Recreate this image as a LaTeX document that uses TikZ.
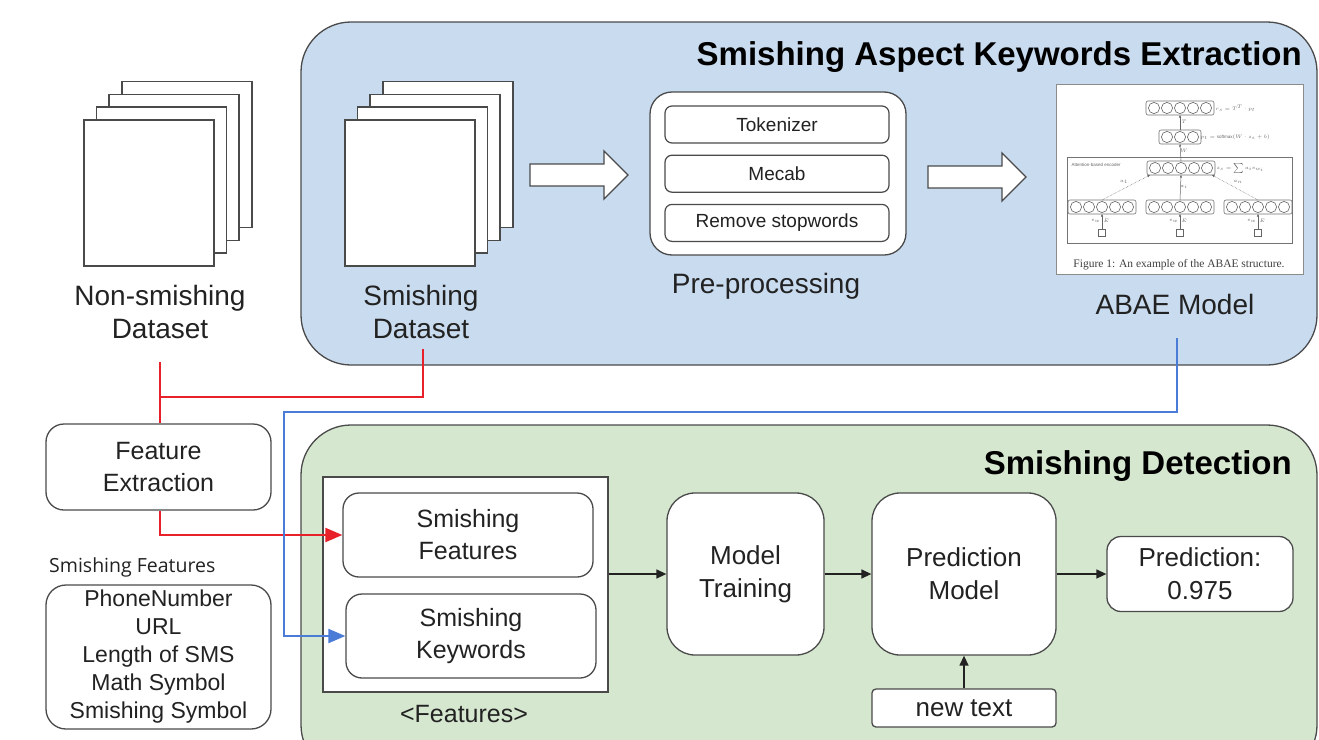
\documentclass[tikz,border=0pt]{standalone}
\usepackage{fontspec}
\setmainfont{Liberation Sans}
\newfontfamily\notefont{Open Sans}
\newfontfamily\figfont{Liberation Serif}
\usetikzlibrary{arrows.meta,positioning}

\definecolor{panelblue}{HTML}{C9DBEF}
\definecolor{panelgreen}{HTML}{D6E7D0}
\definecolor{edgegray}{HTML}{4A4A4A}
\definecolor{linkred}{HTML}{E8202A}
\definecolor{linkblue}{HTML}{4A7BD6}
\definecolor{inkgray}{HTML}{222222}

\tikzset{
  panel/.style={draw=edgegray, line width=1.3pt, rounded corners=50pt},
  title/.style={font=\bfseries\fontsize{33}{38}\selectfont, text=black, inner sep=0pt},
  biglabel/.style={font=\fontsize{28}{33}\selectfont, align=center, text=inkgray, inner sep=0pt},
  page/.style={draw=edgegray, line width=1.5pt, fill=white, minimum width=130pt, minimum height=146pt, inner sep=0pt},
  blockarrow/.style={draw=edgegray, line width=1.3pt, fill=white},
  outerbox/.style={draw=edgegray, line width=1.3pt, fill=white, rounded corners=22pt, inner sep=0pt},
  stepbox/.style={draw=edgegray, line width=1.2pt, fill=white, rounded corners=7pt, minimum width=224pt, minimum height=37pt, inner sep=0pt, font=\fontsize{19}{22}\selectfont, text=inkgray},
  roundbox/.style={draw=edgegray, line width=1.3pt, fill=white, align=center, inner sep=0pt, text=inkgray, font=\fontsize{25}{32}\selectfont},
  flowbox/.style={roundbox, font=\fontsize{26}{33}\selectfont},
  redline/.style={draw=linkred, line width=2.2pt},
  blueline/.style={draw=linkblue, line width=2pt},
  flow/.style={draw=inkgray, line width=1.4pt, -{Triangle[length=10pt,width=9pt]}},
  cellrow/.style={draw=black!55, line width=0.6pt, rounded corners=2pt},
  cell/.style={draw=black!60, line width=0.6pt},
  thinlink/.style={draw=black!60, line width=0.5pt, -{Triangle[length=2.5pt,width=2pt]}},
  tiny/.style={font=\fontsize{4.5}{5}\selectfont, text=black!60, inner sep=0.5pt}
}

\begin{document}
\begin{tikzpicture}[x=1pt,y=-1pt]
\useasboundingbox (0,0) rectangle (1319,739);

% two stages
\draw[panel, fill=panelblue] (301,22) rectangle (1317,365);
\draw[panel, fill=panelgreen] (301,425) rectangle (1317,775);
\node[title, anchor=base east] (kwtitle) at (1302,65) {Smishing Aspect Keywords Extraction};
\node[title, anchor=base east] (dettitle) at (1292,474) {Smishing Detection};

% datasets
\foreach \k in {3,2,1,0}
  \node[page, anchor=north west] at ({83+12.7*\k},{119-12.7*\k}) {};
\node[biglabel, anchor=base] (nonsmish) at (160,338) {Non-smishing\\Dataset};
\foreach \k in {3,2,1,0}
  \node[page, anchor=north west] at ({344+12.7*\k},{119-12.7*\k}) {};
\node[biglabel, anchor=base] (smish) at (421,338) {Smishing\\Dataset};

% pre-processing
\draw[blockarrow] (530,164) -- (604,164) -- (604,151) -- (628,175) -- (604,199) -- (604,186) -- (530,186) -- cycle;
\node[outerbox, minimum width=256pt, minimum height=163pt] (prep) at (778,173.5) {};
\node[stepbox] (tok) at (777,124.5) {Tokenizer};
\node[stepbox, below=11pt of tok] (mecab) {Mecab};
\node[stepbox, below=11pt of mecab] (stopw) {Remove stopwords};
\node[biglabel, anchor=base] (preplbl) at (766,293) {Pre-processing};
\draw[blockarrow] (928,166) -- (1002,166) -- (1002,153) -- (1026,177) -- (1002,201) -- (1002,188) -- (928,188) -- cycle;

% ABAE model figure
\node[draw=black!45, line width=0.8pt, fill=white, minimum width=247pt, minimum height=190pt, inner sep=0pt] (abae) at (1179.5,179) {};
\draw[black!55, line width=0.6pt] (1067,157) rectangle (1292,243);
\foreach \cx/\cy/\nc in {1180/108/5, 1180/137/3, 1181/168/5, 1102/207/5, 1180/207/5, 1258/207/5} {
  \draw[cellrow] ({\cx-\nc*6.5-1.5},{\cy-7}) rectangle ({\cx+\nc*6.5+1.5},{\cy+7});
  \foreach \i in {1,...,\nc}
    \draw[cell] ({\cx+(\i-(\nc+1)/2)*13},\cy) circle[radius=5.6pt];
}
\draw[thinlink] (1181,161) -- (1180,144);
\draw[thinlink] (1180,130) -- (1180,115);
\draw[thinlink, densely dotted] (1102,200) -- (1150,175);
\draw[thinlink] (1180,200) -- (1181,175);
\draw[thinlink, densely dotted] (1258,200) -- (1212,175);
\foreach \x in {1102,1180,1258} {
  \draw[black!60, line width=0.6pt] (\x-3.5,229) rectangle (\x+3.5,236);
  \draw[thinlink] (\x,229) -- (\x,214);
  \node[tiny, anchor=east] at (\x-1,221) {$e_w$};
  \node[tiny, anchor=west] at (\x+1,221) {$E$};
}
\node[tiny, anchor=west] at (1215,108) {$r_s = T^{T}\cdot p_t$};
\node[tiny, anchor=west] at (1200,137) {$p_t = \mathrm{softmax}(W\cdot z_s + b)$};
\node[tiny, anchor=west] at (1216,168) {$z_s = \sum a_i e_{w_i}$};
\node[tiny, anchor=west] at (1071,165) {Attention-based encoder};
\node[tiny] at (1184,122) {$T$};
\node[tiny] at (1184,151) {$W$};
\node[tiny] at (1124,182) {$a_1$};
\node[tiny] at (1184,187) {$a_i$};
\node[tiny] at (1238,182) {$a_n$};
\node[font=\figfont\fontsize{11.5}{13}\selectfont, text=black!75] (abaecap) at (1179,265) {Figure 1: An example of the ABAE structure.};
\node[biglabel, anchor=base] (abaelbl) at (1175,314) {ABAE Model};

% feature extraction
\node[roundbox, rounded corners=18pt, minimum width=225pt, minimum height=86pt] (featext) at (158.5,467) {Feature\\Extraction};
\node[font=\notefont\fontsize{19.5}{22}\selectfont, text=inkgray, anchor=base west, inner sep=0pt] (featnote) at (49,572) {Smishing Features};
\node[roundbox, rounded corners=20pt, minimum width=225pt, minimum height=144pt, font=\fontsize{23}{28}\selectfont] (featlist) at (158.5,657) {PhoneNumber\\URL\\Length of SMS\\Math Symbol\\Smishing Symbol};

% detection
\node[draw=edgegray, line width=1.3pt, fill=white, minimum width=285pt, minimum height=215pt, inner sep=0pt] (featbox) at (465.5,584.5) {};
\node[roundbox, rounded corners=16pt, minimum width=250pt, minimum height=84pt] (sfeat) at (468,535) {Smishing\\Features};
\node[roundbox, rounded corners=16pt, minimum width=250pt, minimum height=84pt] (skey) at (471,636) {Smishing\\Keywords};
\node[biglabel, font=\fontsize{25}{30}\selectfont, anchor=base] (featlbl) at (464,722) {<Features>};
\node[flowbox, rounded corners=28pt, minimum width=157pt, minimum height=162pt] (train) at (745.5,574) {Model\\Training};
\node[flowbox, rounded corners=28pt, minimum width=184pt, minimum height=162pt] (predmodel) at (964,574) {Prediction\\Model};
\node[flowbox, rounded corners=14pt, minimum width=186pt, minimum height=75pt] (predout) at (1200,574) {Prediction:\\0.975};
\node[flowbox, rounded corners=4pt, minimum width=184pt, minimum height=38pt] (newtext) at (964,708) {new text};

% connectors
\coordinate (nsout) at (160,362);
\coordinate (sout) at (423,349);
\coordinate (abaeout) at (1177,338);
\draw[redline] (nsout) -- (nsout |- featext.north);
\draw[redline] (sout) |- (nsout |- 0,397);
\draw[redline, -{Triangle[length=17pt,width=14pt]}] (nsout |- featext.south) |- (sfeat.west);
\draw[blueline, -{Triangle[length=17pt,width=14pt]}] (abaeout) |- (284,412) |- (skey.west);
\draw[flow] (featbox.east |- train.west) -- (train.west);
\draw[flow] (train) -- (predmodel);
\draw[flow] (predmodel) -- (predout);
\draw[flow] (newtext) -- (predmodel);
\end{tikzpicture}
\end{document}
